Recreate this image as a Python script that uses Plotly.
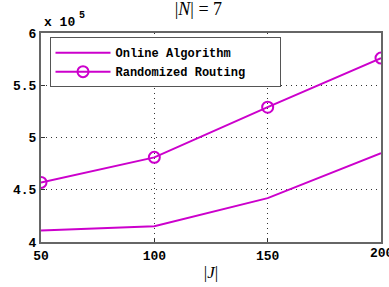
import plotly.graph_objects as go

J = [50, 100, 150, 200]
online = [4.11, 4.15, 4.42, 4.85]
randomized = [4.57, 4.81, 5.29, 5.76]
yticks = [4, 4.5, 5, 5.5, 6]
ytick_text = ["4", "4.5", "5", "5.5", "6"]
xticks = [50, 100, 150, 200]

color = "#cc00cc"
fnt = dict(family="Liberation Mono, DejaVu Sans Mono, monospace", size=13, color="black")
pad = "&nbsp;" * 4

fig = go.Figure()
fig.add_trace(go.Scatter(x=J, y=online, mode="lines", name="<b>Online Algorithm</b>" + pad,
                         line=dict(color=color, width=2)))
fig.add_trace(go.Scatter(x=J, y=randomized, mode="lines+markers", name="<b>Randomized Routing</b>" + pad,
                         line=dict(color=color, width=2),
                         marker=dict(symbol="circle-open", size=11, color=color, line=dict(width=2))))

fig.update_layout(
    width=389, height=287,
    margin=dict(l=41, r=8, t=33, b=45),
    paper_bgcolor="white", plot_bgcolor="white",
    font=fnt,
    title=dict(text="|<i>N</i>| = 7", x=0.51, xanchor="center", y=0.99, yanchor="top",
               font=dict(family="Liberation Serif, serif", size=18, color="black")),
    showlegend=True,
    legend=dict(x=0.025, y=0.98, xanchor="left", yanchor="top",
                bgcolor="white", bordercolor="#555", borderwidth=1,
                font=dict(family="Liberation Mono, monospace", size=12, color="black"),
                tracegroupgap=0, itemwidth=55),
)
fig.update_xaxes(range=[50, 200], tickvals=xticks[:-1], ticktext=[f"<b>{v}</b>" for v in xticks[:-1]],
                 showgrid=True, gridcolor="#333", griddash="1px,4px", gridwidth=1,
                 showline=True, linecolor="#666", linewidth=2, mirror=True,
                 ticks="inside", ticklen=4, tickcolor="#333", automargin=False,
                 title=dict(text="|<i>J</i>|", font=dict(family="Liberation Serif, serif", size=17), standoff=4),
                 zeroline=False)
fig.update_yaxes(range=[4, 6], tickvals=yticks, ticktext=[f"<b>{t}</b>" for t in ytick_text],
                 showgrid=True, gridcolor="#333", griddash="1px,4px", gridwidth=1,
                 showline=True, linecolor="#666", linewidth=2, mirror=True, automargin=False,
                 ticks="inside", ticklen=4, tickcolor="#333", zeroline=False)
fig.add_annotation(text=f"<b>{xticks[-1]}</b>", xref="x", yref="paper", x=xticks[-1], y=0,
                   xanchor="left", yanchor="top", xshift=-13, yshift=-2, showarrow=False, font=fnt)
fig.add_annotation(text="<b>x 10</b>", xref="paper", yref="paper", x=0.003, y=1.0, xanchor="left",
                   yanchor="bottom", showarrow=False, yshift=1, font=fnt)
fig.add_annotation(text="<b>5</b>", xref="paper", yref="paper", x=0.105, y=1.0, xanchor="left",
                   yanchor="bottom", showarrow=False, yshift=10, font=dict(family="Liberation Mono", size=10))
fig.write_html("out.html", config={"displayModeBar": False},
               post_script="document.body.style.margin='0px';")
